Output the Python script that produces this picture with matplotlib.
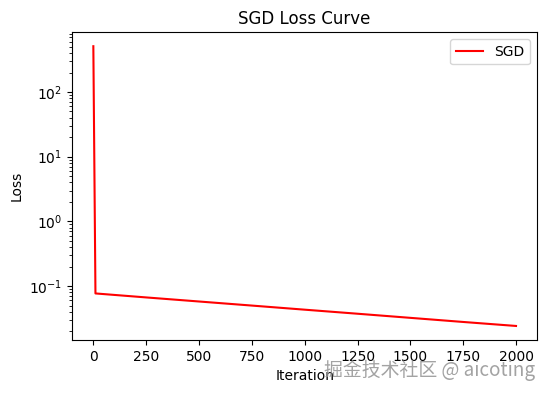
import matplotlib.pyplot as plt

# loss values (log scale)
iterations = [0, 10, 250, 500, 750, 1000, 1250, 1500, 1750, 2000]
losses = [510, 0.077, 0.0668, 0.0578, 0.0500, 0.0432, 0.0374, 0.0323, 0.0279, 0.0242]

fig, ax = plt.subplots(figsize=(5.47, 3.93), dpi=100)
fig.subplots_adjust(left=0.132, right=0.982, top=0.918, bottom=0.135)

ax.plot(iterations, losses, color="red", label="SGD")
ax.set_yscale("log")
ax.set_xlabel("Iteration")
ax.set_ylabel("Loss")
ax.set_title("SGD Loss Curve")
ax.legend()

# watermark
fig.text(0.978, 0.03, "掘金技术社区 @ aicoting", ha="right", va="bottom",
         fontsize=13.6, color="#999999", alpha=0.9,
         family=["Noto Sans CJK SC", "DejaVu Sans"])

fig.savefig("out.png")
